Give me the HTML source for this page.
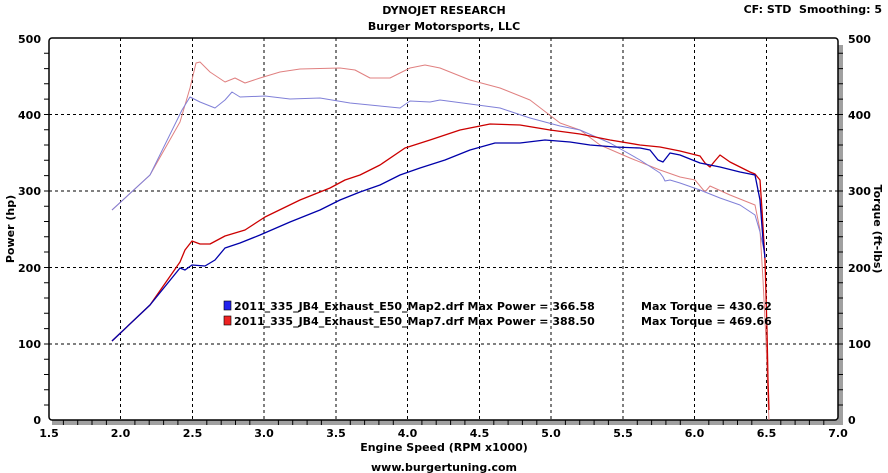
<!DOCTYPE html>
<html><head><meta charset="utf-8"><style>
html,body{margin:0;padding:0;background:#fff;}
svg{display:block;font-family:"DejaVu Sans","Liberation Sans",sans-serif;font-weight:bold;}
</style></head><body>
<svg width="888" height="473" viewBox="0 0 888 473" xmlns="http://www.w3.org/2000/svg">
<rect width="888" height="473" fill="#fff"/>
<text x="444" y="14" font-size="11" text-anchor="middle">DYNOJET RESEARCH</text>
<text x="444" y="30" font-size="11" text-anchor="middle">Burger Motorsports, LLC</text>
<text x="882" y="13" font-size="11" text-anchor="end">CF: STD&#160; Smoothing: 5</text>
<rect x="52" y="420" width="791" height="5" fill="#a0a0a0"/>
<rect x="838" y="45" width="5" height="380" fill="#a0a0a0"/>
<g stroke="#000" stroke-width="1" stroke-dasharray="3,3">
<line x1="120.5" y1="38" x2="120.5" y2="420"/><line x1="192.5" y1="38" x2="192.5" y2="420"/>
<line x1="264" y1="38" x2="264" y2="420"/><line x1="336" y1="38" x2="336" y2="420"/>
<line x1="407.5" y1="38" x2="407.5" y2="420"/><line x1="479.5" y1="38" x2="479.5" y2="420"/>
<line x1="551" y1="38" x2="551" y2="420"/><line x1="623" y1="38" x2="623" y2="420"/>
<line x1="694.5" y1="38" x2="694.5" y2="420"/><line x1="766.5" y1="38" x2="766.5" y2="420"/>
<line x1="49" y1="114.5" x2="838" y2="114.5"/><line x1="49" y1="191" x2="838" y2="191"/>
<line x1="49" y1="267.5" x2="838" y2="267.5"/><line x1="49" y1="344" x2="838" y2="344"/>
</g>
<rect x="49" y="38" width="789" height="382" rx="3" fill="none" stroke="#000" stroke-width="1.5"/>
<g stroke="#000" stroke-width="1">
<path d="M44 53.3h5M44 68.6h5M44 83.8h5M44 99.1h5M44 114.5h5M44 129.7h5M44 145h5M44 160.3h5M44 175.6h5M44 191h5M44 206.2h5M44 221.5h5M44 236.8h5M44 252h5M44 267.5h5M44 282.7h5M44 298h5M44 313.3h5M44 328.6h5M44 344h5M44 359.2h5M44 374.5h5M44 389.8h5M44 405h5"/>
<path d="M838 53.3h5M838 68.6h5M838 83.8h5M838 99.1h5M838 114.5h5M838 129.7h5M838 145h5M838 160.3h5M838 175.6h5M838 191h5M838 206.2h5M838 221.5h5M838 236.8h5M838 252h5M838 267.5h5M838 282.7h5M838 298h5M838 313.3h5M838 328.6h5M838 344h5M838 359.2h5M838 374.5h5M838 389.8h5M838 405h5"/>
</g>
<path stroke="#000" d="M63.4 420v5M77.7 420v5M92 420v5M106.4 420v5M134.9 420v5M149.2 420v5M163.6 420v5M177.9 420v5M206.8 420v5M221.2 420v5M235.5 420v5M249.8 420v5M278.4 420v5M292.7 420v5M307.1 420v5M321.4 420v5M350.3 420v5M364.6 420v5M378.9 420v5M393.3 420v5M421.9 420v5M436.2 420v5M450.6 420v5M464.9 420v5M493.8 420v5M508.1 420v5M522.4 420v5M536.8 420v5M565.4 420v5M579.7 420v5M594.1 420v5M608.4 420v5M637.3 420v5M651.6 420v5M665.9 420v5M680.3 420v5M708.8 420v5M723.2 420v5M737.5 420v5M751.8 420v5M780.8 420v5M795.1 420v5M809.4 420v5M823.8 420v5"/>
<g font-size="11" text-anchor="end">
<text x="41" y="43">500</text><text x="41" y="119">400</text><text x="41" y="195">300</text>
<text x="41" y="272">200</text><text x="41" y="348">100</text><text x="41" y="424">0</text>
</g>
<g font-size="11" text-anchor="start">
<text x="848" y="43">500</text><text x="848" y="119">400</text><text x="848" y="195">300</text>
<text x="848" y="272">200</text><text x="848" y="348">100</text><text x="848" y="424">0</text>
</g>
<g font-size="11" text-anchor="middle">
<text x="49" y="437">1.5</text><text x="120.5" y="437">2.0</text><text x="192.5" y="437">2.5</text>
<text x="264" y="437">3.0</text><text x="336" y="437">3.5</text><text x="407.5" y="437">4.0</text>
<text x="479.5" y="437">4.5</text><text x="551" y="437">5.0</text><text x="623" y="437">5.5</text>
<text x="694.5" y="437">6.0</text><text x="766.5" y="437">6.5</text><text x="838" y="437">7.0</text>
<text x="444" y="451">Engine Speed (RPM x1000)</text>
<text x="444" y="471">www.burgertuning.com</text>
</g>
<text transform="translate(14,229) rotate(-90)" font-size="11" text-anchor="middle">Power (hp)</text>
<text transform="translate(874,229) rotate(90)" font-size="11" text-anchor="middle">Torque (ft-lbs)</text>
<g fill="none" stroke-width="1" stroke-linejoin="round">
<polyline stroke="#e08080" points="112,210 150,175 180,122 190,88 196,63 200,62 210,72 225,82 235,78 245,83 260,78 280,72 300,69 340,68 355,70 370,78 390,78 410,68 425,65 440,68 470,80 500,88 530,100 560,123 580,130 600,145 630,158 660,170 680,177 695,180 700,186 705,192 710,186 730,195 750,203 755,205 760,230 763,280 766,340 768,400 769,420"/>
<polyline stroke="#8080d8" points="112,210 150,175 182,110 190,97 200,102 215,108 225,100 232,92 240,97 265,96 290,99 320,98 350,103 380,106 400,108 410,101 430,102 440,100 470,104 500,108 530,118 560,126 580,130 610,143 640,160 660,173 663,177 665,181 670,180 680,183 700,190 720,198 740,205 755,215 760,232 765,255"/>
<polyline stroke="#cc0000" stroke-width="1.3" points="112,341 150,305 180,262 185,250 192,241 200,244 210,244 225,236 245,230 265,217 300,200 330,188 345,180 360,175 380,165 405,148 430,140 460,130 490,124 520,125 550,130 580,134 610,140 640,145 660,147 680,151 700,156 705,163 710,167 714,162 720,155 730,162 750,172 755,174 760,180 762,210 765,260 767,330 768,380 769,410"/>
<polyline stroke="#0000aa" stroke-width="1.3" points="112,341 150,305 180,268 185,270 192,265 205,266 215,260 225,248 240,243 260,235 290,222 320,210 340,200 360,192 380,185 400,175 420,168 445,160 470,150 495,143 520,143 545,140 570,142 590,145 615,147 640,148 650,150 658,160 663,162 670,153 680,155 700,163 720,167 740,172 755,175 760,200 763,240 765,258"/>
</g>
<rect x="224" y="301" width="7" height="9" fill="#2222ee" stroke="#000" stroke-width="0.6"/>
<rect x="224" y="316" width="7" height="9" fill="#ee2222" stroke="#000" stroke-width="0.6"/>
<g font-size="11">
<text x="234" y="310">2011_335_JB4_Exhaust_E50_Map2.drf Max Power = 366.58</text>
<text x="234" y="325">2011_335_JB4_Exhaust_E50_Map7.drf Max Power = 388.50</text>
<text x="641" y="310">Max Torque = 430.62</text>
<text x="641" y="325">Max Torque = 469.66</text>
</g>
</svg>
</body></html>
